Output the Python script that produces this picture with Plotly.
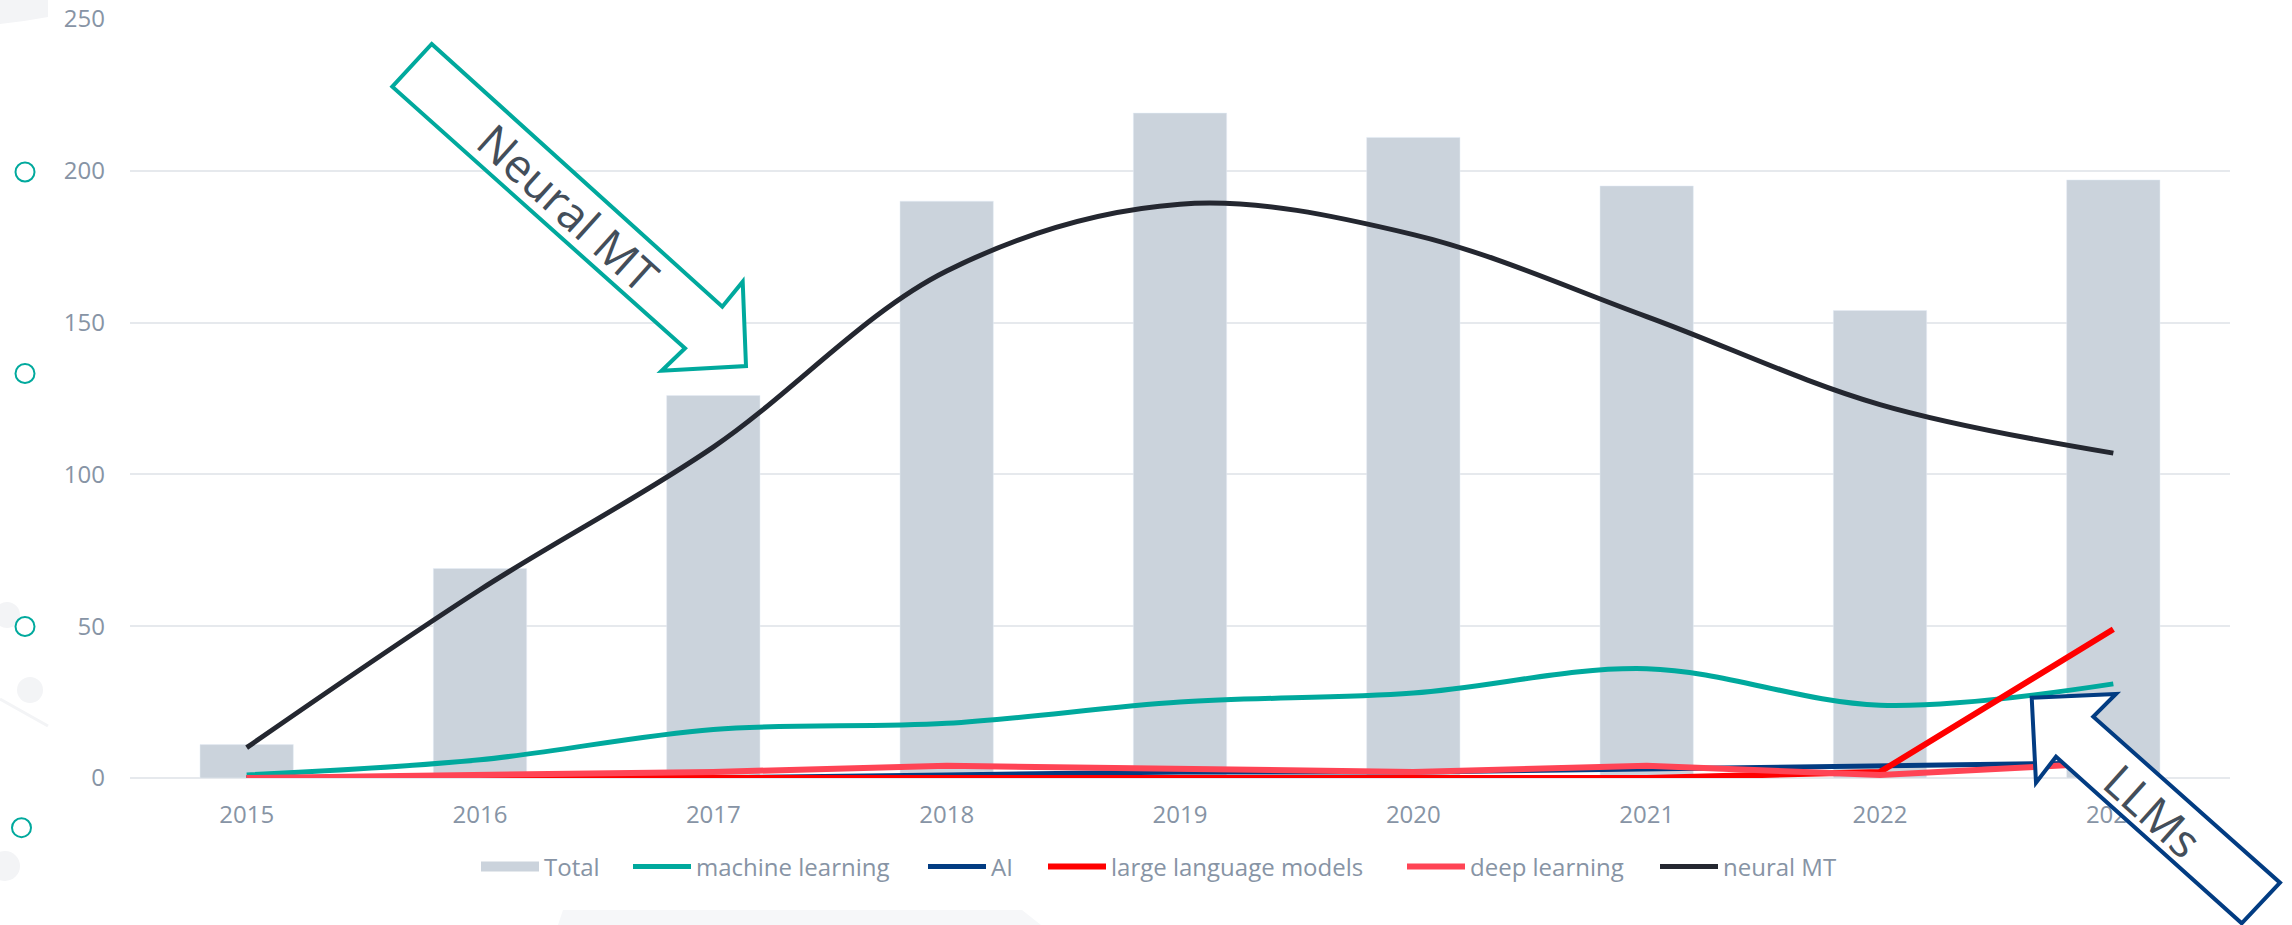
import plotly.graph_objects as go

# ---------------- data ----------------
years = ["2015", "2016", "2017", "2018", "2019", "2020", "2021", "2022", "2023"]
total = [11, 69, 126, 190, 219, 211, 195, 154, 197]
machine_learning = [1, 6, 16, 18, 25, 28, 36, 24, 31]
ai = [0, 0, 0, 1, 2, 2, 3, 4, 5]
large_language_models = [0, 0, 0, 0, 0, 0, 0, 2, 49]
deep_learning = [0, 1, 2, 4, 3, 2, 4, 1, 5]
neural_mt = [10, 62, 109, 167, 189, 179, 152, 123, 107]
y_ticks = [0, 50, 100, 150, 200, 250]

# ---------------- layout geometry ----------------
W, H = 2292, 925
ML, MR, MT, MB = 130, 62, 19, 147
PW, PH = W - ML - MR, H - MT - MB


def px(x, y):
    """pixel -> paper coordinates"""
    return (x - ML) / PW, (H - MB - y) / PH


def path_from(points):
    pts = [px(x, y) for x, y in points]
    return "M " + " L ".join(f"{a:.5f},{b:.5f}" for a, b in pts) + " Z"


FONT = "Open Sans"
TICK_COL = "#8794a5"
BAR_COL = "#cbd3dc"
TEAL = "#00a99d"
NAVY = "#023c82"
RED = "#ff0000"
PINK = "#ff4455"
DARK = "#242730"

fig = go.Figure()

fig.add_trace(go.Bar(x=years, y=total, name="Total", marker_color=BAR_COL,
                     width=0.4, showlegend=False))
# legend proxy for the bar series (wide swatch)
fig.add_trace(go.Scatter(x=[None], y=[None], mode="lines", name="Total", legend="legend",
                         line=dict(color=BAR_COL, width=14)))
fig.add_trace(go.Scatter(x=years, y=machine_learning, name="machine learning", mode="lines",
                         legend="legend2", line=dict(color=TEAL, width=5, shape="spline")))
fig.add_trace(go.Scatter(x=years, y=ai, name="AI", mode="lines", legend="legend3",
                         line=dict(color=NAVY, width=5)))
fig.add_trace(go.Scatter(x=years, y=large_language_models, name="large language models",
                         mode="lines", legend="legend4", line=dict(color=RED, width=6)))
fig.add_trace(go.Scatter(x=years, y=deep_learning, name="deep learning", mode="lines",
                         legend="legend5", line=dict(color=PINK, width=6)))
fig.add_trace(go.Scatter(x=years, y=neural_mt, name="neural MT", mode="lines",
                         legend="legend6", line=dict(color=DARK, width=5, shape="spline")))

shapes = []
# faint background decorations
DECO = "#f3f4f6"
shapes.append(dict(type="path", xref="paper", yref="paper", layer="below",
                   path=path_from([(0, 0), (48, 0), (48, 17), (24, 21), (0, 24)]),
                   fillcolor=DECO, line=dict(width=0)))
for cx, cy, r in [(7, 615, 13), (30, 690, 13), (5, 866, 15)]:
    x0, y0 = px(cx - r, cy + r)
    x1, y1 = px(cx + r, cy - r)
    shapes.append(dict(type="circle", xref="paper", yref="paper", layer="below",
                       x0=x0, y0=y0, x1=x1, y1=y1, fillcolor=DECO, line=dict(width=0)))
lx0, ly0 = px(0, 699)
lx1, ly1 = px(48, 726)
shapes.append(dict(type="line", xref="paper", yref="paper", layer="below",
                   x0=lx0, y0=ly0, x1=lx1, y1=ly1, line=dict(color=DECO, width=3)))
shapes.append(dict(type="path", xref="paper", yref="paper", layer="below",
                   path=path_from([(563, 910), (1022, 910), (1041, 925), (558, 925)]),
                   fillcolor="#f6f7f9", line=dict(width=0)))
# teal ring decorations on the left
for cx, cy in [(25, 172), (25, 373.5), (25, 626.5), (21.5, 827.7)]:
    r = 9.5
    x0, y0 = px(cx - r, cy + r)
    x1, y1 = px(cx + r, cy - r)
    shapes.append(dict(type="circle", xref="paper", yref="paper", layer="above",
                       x0=x0, y0=y0, x1=x1, y1=y1, line=dict(color=TEAL, width=2)))

# block arrows
shapes.append(dict(type="path", xref="paper", yref="paper", layer="above",
                   path=path_from([(431.7, 44), (722.3, 306.7), (742.7, 281.7), (746, 366),
                                   (661.7, 370.7), (685, 348.3), (392.3, 86.7)]),
                   fillcolor="white", line=dict(color=TEAL, width=4)))
shapes.append(dict(type="path", xref="paper", yref="paper", layer="above",
                   path=path_from([(2031.7, 697.7), (2116, 694), (2093.3, 716.7), (2280, 882.7),
                                   (2241.7, 923.3), (2056, 756.7), (2036, 782.7)]),
                   fillcolor="white", line=dict(color=NAVY, width=4)))

annotations = []
for text, (tx, ty) in [("Neural MT", (568.3, 207.3)), ("LLMs", (2153.3, 810))]:
    ax, ay = px(tx, ty)
    annotations.append(dict(text=text, x=ax, y=ay, xref="paper", yref="paper",
                            xanchor="center", yanchor="middle", showarrow=False,
                            textangle=42, font=dict(family=FONT, size=46, color="#434e5a")))

# one legend box per entry, so the entries sit where the reference puts them
legend_starts = [482, 634, 929, 1049, 1408, 1661]
legends = {}
for i, sx in enumerate(legend_starts):
    lx, ly = px(sx - 6, 867)
    key = "legend" if i == 0 else f"legend{i + 1}"
    legends[key] = dict(orientation="h", x=lx, y=ly, xanchor="left", yanchor="middle",
                        font=dict(family=FONT, size=24, color=TICK_COL), itemwidth=58,
                        bgcolor="rgba(0,0,0,0)", borderwidth=0)

fig.update_layout(
    width=W, height=H, autosize=False,
    margin=dict(l=ML, r=MR, t=MT, b=MB, pad=0, autoexpand=False),
    plot_bgcolor="white", paper_bgcolor="white",
    font=dict(family=FONT, size=22, color=TICK_COL),
    showlegend=True,
    shapes=shapes,
    annotations=annotations,
    **legends,
)
fig.update_xaxes(type="category", showgrid=False, showline=False, zeroline=False,
                 automargin=False, ticks="",
                 tickfont=dict(family=FONT, size=24, color=TICK_COL),
                 ticklabelstandoff=20)
fig.update_yaxes(range=[0, 250], tickvals=y_ticks, showgrid=True, gridcolor="#e6e9ed",
                 gridwidth=2, zeroline=True, zerolinecolor="#e6e9ed", zerolinewidth=2,
                 showline=False, automargin=False, ticks="",
                 tickfont=dict(family=FONT, size=24, color=TICK_COL),
                 ticklabelstandoff=24)

fig.write_html("out.html", config={"displayModeBar": False})
